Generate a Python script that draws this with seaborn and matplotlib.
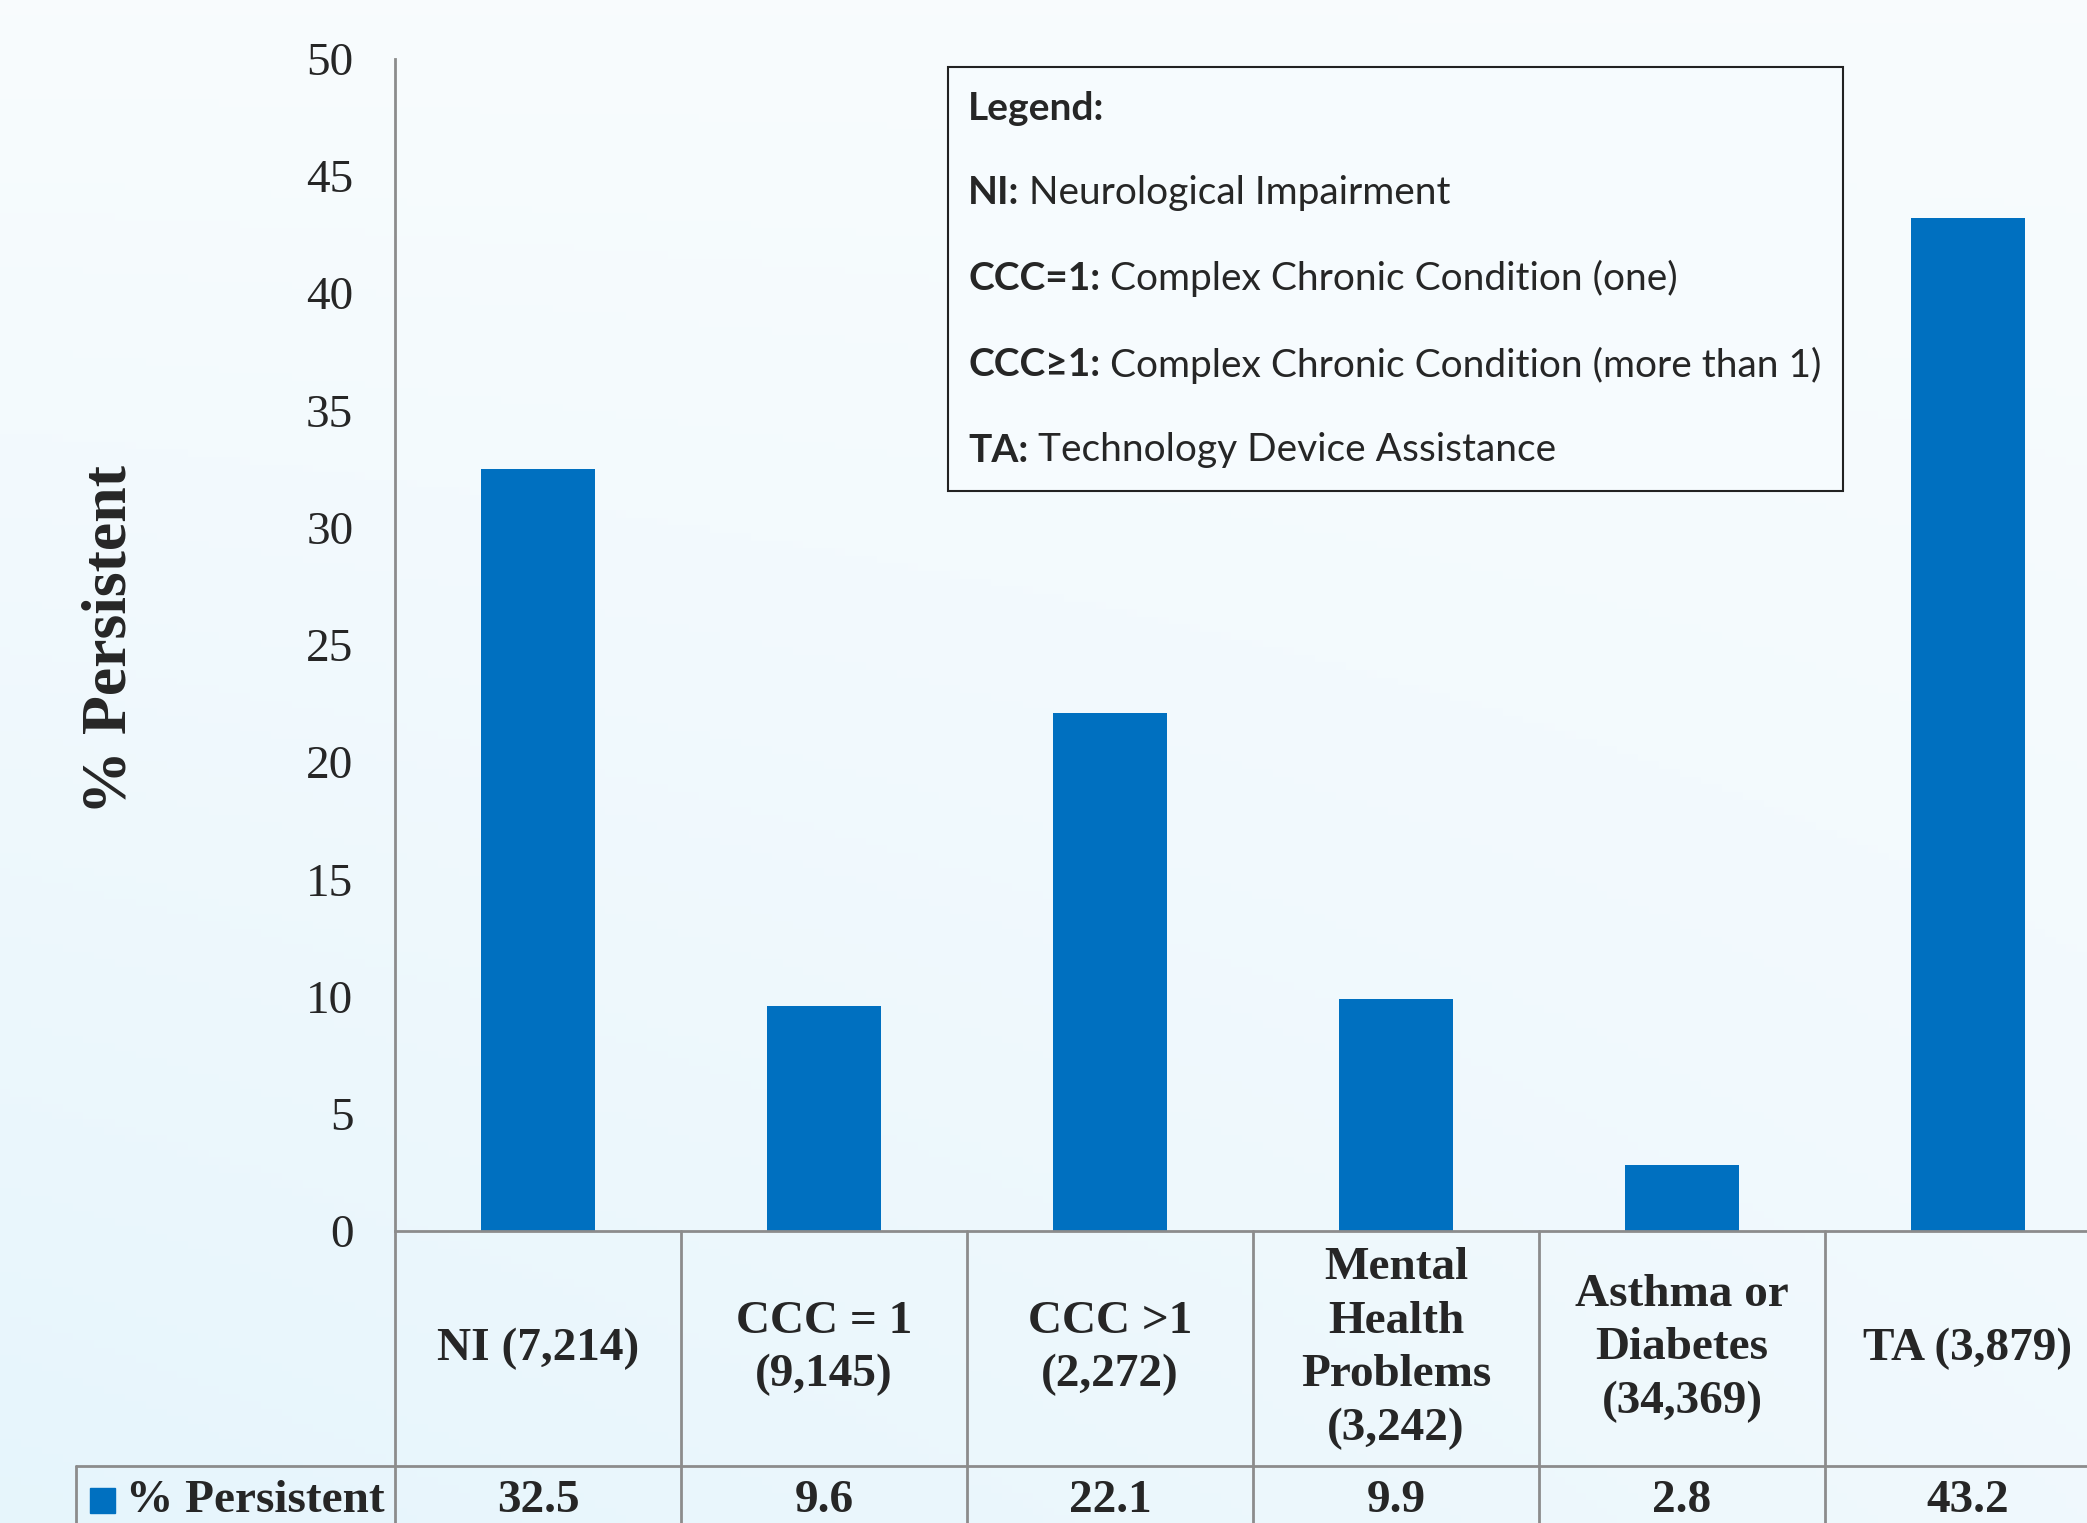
import numpy as np
import matplotlib
matplotlib.use("Agg")
import matplotlib.pyplot as plt
import matplotlib.transforms as mtransforms
from matplotlib.patches import Rectangle
import seaborn as sns

# %%
categories = [
    "NI (7,214)",
    "CCC = 1\n(9,145)",
    "CCC >1\n(2,272)",
    "Mental\nHealth\nProblems\n(3,242)",
    "Asthma or\nDiabetes\n(34,369)",
    "TA (3,879)",
]
values = [32.5, 9.6, 22.1, 9.9, 2.8, 43.2]
series_name = "% Persistent"
y_ticks = [0, 5, 10, 15, 20, 25, 30, 35, 40, 45, 50]

legend_title = "Legend:"
legend_keys = ["NI:", "CCC=1:", "CCC\u22651:", "TA:"]
legend_desc = [
    "Neurological Impairment",
    "Complex Chronic Condition (one)",
    "Complex Chronic Condition (more than 1)",
    "Technology Device Assistance",
]

BAR = "#0070C0"
GRID = "#8C8C8C"
SERIF = "Liberation Serif"
SANS = ["Lato", "DejaVu Sans"]

W, H = 2087, 1523

# %%
sns.set_style("white")
plt.rcParams["font.family"] = SERIF

fig = plt.figure(figsize=(W / 100, H / 100), dpi=100)

# soft blue background gradient
bg = fig.add_axes([0, 0, 1, 1], zorder=-10)
yy, xx = np.mgrid[0:1:200j, 0:1:200j]
t = yy * (1 - 0.55 * xx)
top = np.array([0.973, 0.988, 0.996])
bot = np.array([0.902, 0.961, 0.988])
img = top[None, None, :] * (1 - t[..., None]) + bot[None, None, :] * t[..., None]
bg.imshow(img, aspect="auto", extent=[0, 1, 0, 1], origin="upper")
bg.axis("off")

def fx(px):
    return px / W

def fy(py):
    return 1 - py / H

ax_left, ax_right = 395, 395 + 6 * 286
ax_top, ax_bot = 58.6, 1231
ax = fig.add_axes([fx(ax_left), fy(ax_bot), fx(ax_right - ax_left), (ax_bot - ax_top) / H])
ax.set_facecolor("none")

sns.barplot(x=categories, y=values, color=BAR, saturation=1, width=0.4,
            linewidth=0, ax=ax)

ax.set_xlim(-0.5, 5.5)
ax.set_ylim(0, 50)
ax.set_yticks(y_ticks)
ax.set_yticklabels([str(v) for v in y_ticks], fontsize=34, family=SERIF)
ax.tick_params(axis="y", length=0, pad=30)
ax.tick_params(axis="x", bottom=False, labelbottom=False)
ax.set_xlabel("")
ax.set_ylabel("")
for side in ["top", "right"]:
    ax.spines[side].set_visible(False)
for side in ["left", "bottom"]:
    ax.spines[side].set_color(GRID)
    ax.spines[side].set_linewidth(2)

# %%
# data table under the axis
ax_h = ax_bot - ax_top
ax_w = ax_right - ax_left
row1 = -(1466 - ax_bot) / ax_h
row2 = -(1560 - ax_bot) / ax_h
label_left = (76 - ax_left) / ax_w

blend = mtransforms.blended_transform_factory(ax.transData, ax.transAxes)
for i in range(len(categories) + 1):
    ax.plot([i - 0.5, i - 0.5], [0, row2], transform=blend, color=GRID,
            lw=2, clip_on=False)
ax.plot([label_left, 1.2], [row1, row1], transform=ax.transAxes, color=GRID,
        lw=2, clip_on=False)
ax.plot([label_left, label_left], [row1, row2], transform=ax.transAxes,
        color=GRID, lw=2, clip_on=False)

mid1 = row1 / 2
mid2 = -(1501 - ax_bot) / ax_h
for i, (cat, v) in enumerate(zip(categories, values)):
    ax.text(i, mid1, cat, transform=blend, ha="center", va="center",
            fontsize=34, fontweight="bold", family=SERIF, linespacing=1.36,
            clip_on=False)
    ax.text(i, mid2, f"{v:.1f}", transform=blend, ha="center", va="center",
            fontsize=34, fontweight="bold", family=SERIF, clip_on=False)

fig.patches.append(Rectangle((fx(90), fy(1513)), fx(25), 25 / H,
                             transform=fig.transFigure, color=BAR))
fig.text(fx(126), fy(1501), series_name, ha="left", va="center",
         fontsize=34, fontweight="bold", family=SERIF)

# y axis title
fig.text(fx(111), fy(640), series_name, rotation=90, ha="center", va="center",
         fontsize=46, fontweight="bold", family=SERIF)

# %%
# legend box
fig.patches.append(Rectangle((fx(948), fy(491)), fx(1843 - 948), (491 - 67) / H,
                             transform=fig.transFigure, facecolor="#F6FBFE",
                             edgecolor="#222222", lw=1.5, zorder=5))
fig.text(fx(968), fy(108), legend_title, ha="left", va="center", fontsize=28,
         fontweight="bold", family=SANS, zorder=6)

renderer = fig.canvas.get_renderer()
for key, desc, py in zip(legend_keys, legend_desc, [193, 278, 365, 450]):
    t1 = fig.text(fx(968), fy(py), key, ha="left", va="center", fontsize=28,
                  fontweight="bold", family=SANS, zorder=6)
    ext = t1.get_window_extent(renderer=renderer)
    fig.text(fx(ext.x1), fy(py), " " + desc, ha="left", va="center",
             fontsize=28, family=SANS, zorder=6)

fig.savefig("out.png", dpi=100)
print("saved")
